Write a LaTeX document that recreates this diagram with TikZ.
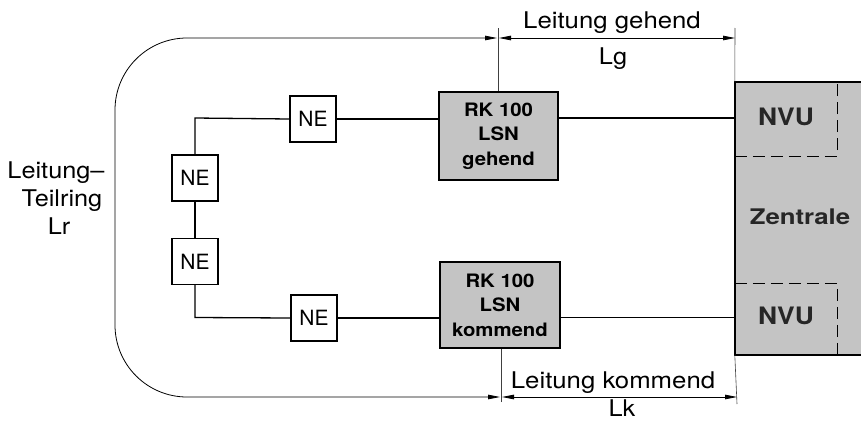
\documentclass[tikz,border=0pt]{standalone}
\usepackage{fontspec}
\setmainfont{TeX Gyre Heros}
\usepackage{graphicx}
\usetikzlibrary{arrows.meta}
\definecolor{shade}{gray}{0.77}
\newcommand{\sx}[2][1.1]{\scalebox{#1}[1]{#2}}
\begin{document}
\begin{tikzpicture}[x=1pt,y=-1pt,
  conn/.style={line width=1.3pt},
  nebox/.style={draw, line width=1.3pt, minimum width=46pt, minimum height=46pt, inner sep=0pt, font=\fontsize{21}{24}\selectfont},
  rkbox/.style={draw, line width=1.3pt, fill=shade, inner sep=0pt, align=center, font=\fontsize{18.5}{24.5}\bfseries\selectfont},
  dimarrow/.style={line width=0.8pt, {Triangle[length=12pt,width=4.5pt]}-{Triangle[length=12pt,width=4.5pt]}},
  ticks/.style={line width=0.6pt, black!75},
  lbl/.style={font=\fontsize{23}{28}\selectfont, inner sep=0pt, anchor=base},
  boldlbl/.style={font=\bfseries, inner sep=0pt, text=black!85}
]
\useasboundingbox (0,0) rectangle (861,423);

% Zentrale
\node[draw=none, fill=shade, minimum width=150pt, minimum height=273pt, inner sep=0pt] (zen) at (810,218.5) {};
\draw[line width=1.9pt] (zen.north east) -- (zen.north west) -- (zen.south west) -- (zen.south east);
\draw[line width=1pt, dash pattern=on 12pt off 6pt] (zen.west |- 0,156) -- (837,156) -- (837,82);
\draw[line width=1pt, dash pattern=on 12pt off 6pt] (zen.west |- 0,283) -- (837,283) -- (837,355);
\node[boldlbl, font=\fontsize{24}{26}\bfseries\selectfont] (nvu1) at (786,117) {\sx{NVU}};
\node[boldlbl, font=\fontsize{24}{26}\bfseries\selectfont] (nvu2) at (786,316) {\sx{NVU}};
\node[boldlbl, font=\fontsize{21.5}{24}\bfseries\selectfont] (zt) at (800,217) {\sx[1.2]{Zentrale}};

% RK boxes
\node[rkbox, minimum width=119pt, minimum height=88pt] (rk1) at (498.5,136) {\sx{RK 100}\\\sx{LSN}\\\sx{gehend}};
\node[rkbox, minimum width=120pt, minimum height=86pt] (rk2) at (500,305) {\sx{RK 100}\\\sx{LSN}\\\sx{kommend}};

% NE boxes
\node[nebox] (ne1) at (313,119) {NE};
\node[nebox] (ne2) at (195,178) {NE};
\node[nebox] (ne3) at (195,261.5) {NE};
\node[nebox] (ne4) at (314,318) {NE};

\coordinate (c1) at (195,118);
\coordinate (c2) at (195,317.5);

% connectors
\draw[conn] (ne2.north) -- (c1) -- (ne1.west);
\draw[conn] (ne1.east) -- (rk1.west |- ne1.east);
\draw[conn] (rk1.east |- 0,118) -- (zen.west |- 0,118);
\draw[conn] (ne2.south) -- (ne3.north);
\draw[conn] (ne3.south) -- (c2) -- (ne4.west);
\draw[conn] (ne4.east) -- (rk2.west |- ne4.east);
\draw[conn] (rk2.east |- 0,317.5) -- (zen.west |- 0,317.5);

% dimension ticks
\coordinate (t1) at (498,28);
\coordinate (t2) at (735,28);
\coordinate (b1) at (501,402);
\coordinate (b2) at (737,404);
\draw[ticks] (t1) -- (rk1.north -| t1);
\draw[ticks] (t2) -- (zen.north west);
\draw[ticks] (b1) -- (rk2.south -| b1);
\draw[ticks] (b2) -- (zen.south west);

% ring Lr
\coordinate (r1) at (497,38);
\coordinate (r2) at (500,397);
\draw[dimarrow, rounded corners=72pt] (r1) -- (115,38) -- (115,397) -- (r2);

% Lg, Lk
\coordinate (g1) at (499,38);
\coordinate (g2) at (735,38);
\draw[dimarrow] (g1) -- (g2);
\coordinate (k1) at (502,397);
\coordinate (k2) at (737,397);
\draw[dimarrow] (k1) -- (k2);

% labels
\node[lbl] (lgt) at (612,28.5) {\sx[1.12]{Leitung gehend}};
\node[lbl] (lg) at (613,64.5) {\sx{Lg}};
\node[lbl] (lkt) at (613,388.5) {\sx[1.12]{Leitung kommend}};
\node[lbl] (lk) at (622,416.5) {\sx{Lk}};
\node[lbl] (lr1) at (56,178.5) {\sx{Leitung--}};
\node[lbl] (lr2) at (62,206.5) {\sx{Teilring}};
\node[lbl] (lr3) at (59,234.5) {\sx{Lr}};
\end{tikzpicture}
\end{document}
